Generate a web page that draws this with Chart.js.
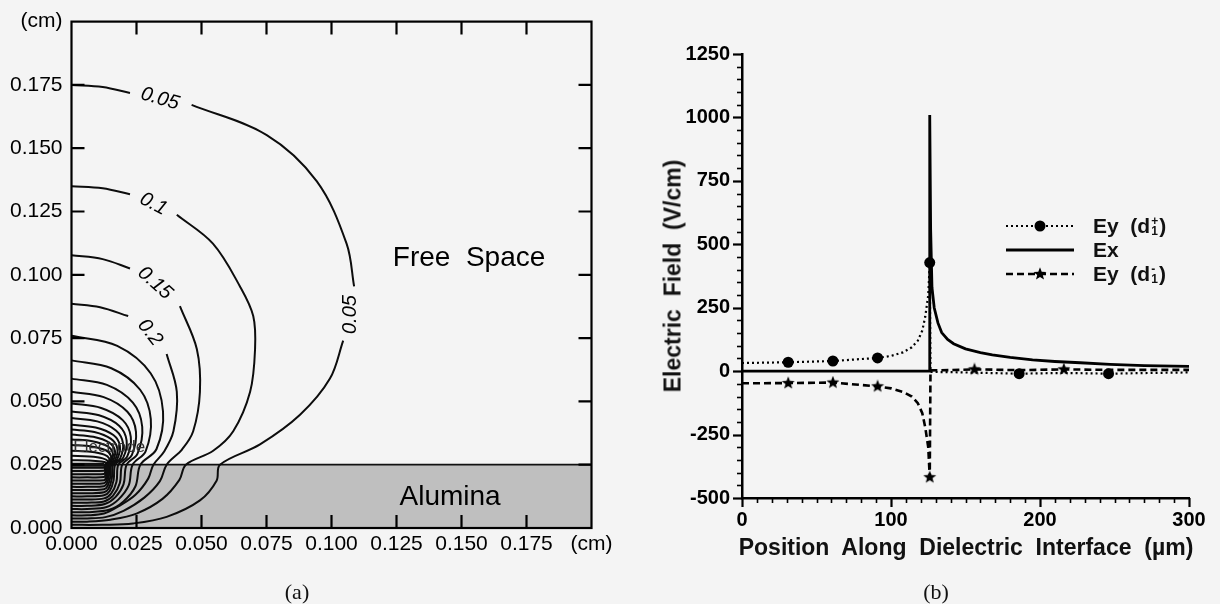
<!DOCTYPE html>
<html>
<head>
<meta charset="utf-8">
<script src="https://cdn.jsdelivr.net/npm/chart.js@4.4.1/dist/chart.umd.min.js"></script>
<style>
  html, body { margin: 0; padding: 0; background: #f4f4f4; }
  #wrap { position: relative; width: 1220px; height: 604px; overflow: hidden;
          font-family: 'Liberation Sans', Arial, Helvetica, sans-serif; color: #111; }
  #chartA { position: absolute; left: 0; top: 0; }
  #chartB { position: absolute; left: 640px; top: 0; }
  .cap { position: absolute; font-family: 'Liberation Serif', 'DejaVu Serif', serif; font-size: 22px;
         transform: translate(-50%, -50%); }
  .atitle { position: absolute; font-weight: bold; font-size: 23px; white-space: pre;
            transform: translate(-50%, -50%); }
  #ytitleB { transform: translate(-50%, -50%) rotate(-90deg); }
  #legendB { position: absolute; left: 1006px; top: 214px; font-weight: bold; font-size: 21px; }
  #legendB .row { display: flex; align-items: center; height: 24px; white-space: pre; }
  #legendB canvas { margin-right: 19px; }
  .ss { display: inline-flex; flex-direction: column; font-size: 12px; line-height: 10px;
        vertical-align: middle; margin: 0 1px; }
</style>
</head>
<body>
<div id="wrap">
  <canvas id="chartA" width="620" height="604"></canvas>
  <canvas id="chartB" width="580" height="604"></canvas>
  <div class="atitle" id="ytitleB" style="left:673px; top:276px;">Electric  Field  (V/cm)</div>
  <div class="atitle" id="xtitleB" style="left:966px; top:547px;">Position  Along  Dielectric  Interface  (µm)</div>
  <div id="legendB">
    <div class="row"><canvas id="keyPlus" width="68" height="16"></canvas>Ey  (d<span class="ss"><span>+</span><span>1</span></span>)</div>
    <div class="row"><canvas id="keyEx" width="68" height="16"></canvas>Ex</div>
    <div class="row"><canvas id="keyMinus" width="68" height="16"></canvas>Ey  (d<span class="ss"><span>-</span><span>1</span></span>)</div>
  </div>
  <div class="cap" style="left:297px; top:592px;">(a)</div>
  <div class="cap" style="left:936px; top:592px;">(b)</div>
</div>
<script>
Chart.defaults.font.family = "'Liberation Sans', Arial, Helvetica, sans-serif";
Chart.defaults.color = '#111';

// ---------- panel (a): equipotential contours (cm) ----------
const cmTickLabels = ['0.000', '0.025', '0.050', '0.075', '0.100', '0.125', '0.150', '0.175', '(cm)'];

// labelled contours, split where the level label sits
const contour005a = [[0, 0.175], [0.012, 0.1742], [0.0225, 0.1718]];
const contour005b = [[0.0462, 0.1671], [0.0751, 0.1552], [0.0943, 0.137], [0.1058, 0.1123], [0.1087, 0.0954]];
const contour005c = [[0.1045, 0.074], [0.0994, 0.059], [0.0879, 0.0447], [0.0725, 0.033], [0.0571, 0.025],
                     [0.0558, 0.0187], [0.0494, 0.0109], [0.0366, 0.0044], [0.0237, 0.0018], [0.012, 0.00128], [0, 0.00125]];
const contour010a = [[0, 0.135], [0.012, 0.1342], [0.0225, 0.1318]];
const contour010b = [[0.0405, 0.1237], [0.0544, 0.1123], [0.0648, 0.0954], [0.0699, 0.0837], [0.0706, 0.0707],
                     [0.0687, 0.0538], [0.0622, 0.0382], [0.0545, 0.0305], [0.044, 0.025],
                     [0.0415, 0.019], [0.035, 0.0115], [0.025, 0.0057], [0.015, 0.0033], [0.006, 0.0025], [0, 0.0025]];
const contour015a = [[0, 0.1077], [0.012, 0.1062], [0.0225, 0.1025]];
const contour015b = [[0.0417, 0.0876], [0.0482, 0.0707], [0.0494, 0.0538], [0.0468, 0.0382], [0.0425, 0.031], [0.0366, 0.025],
                     [0.034, 0.0185], [0.028, 0.012], [0.02, 0.0068], [0.013, 0.0043], [0.006, 0.00375], [0, 0.00375]];
const contour020a = [[0, 0.0886], [0.011, 0.0872], [0.0218, 0.0837]];
const contour020b = [[0.0366, 0.0687], [0.0405, 0.0538], [0.0392, 0.0382], [0.0355, 0.03], [0.0315, 0.025],
                     [0.0295, 0.0195], [0.0245, 0.013], [0.018, 0.0085], [0.0125, 0.0057], [0.006, 0.005], [0, 0.005]];
// unlabelled contours 0.25 ... 0.95
const contour025 = [[0, 0.0759], [0.0176, 0.0719], [0.0305, 0.061], [0.0352, 0.046], [0.0327, 0.0312], [0.0265, 0.025],
                    [0.0246, 0.0165], [0.02, 0.0105], [0.0145, 0.0072], [0.006, 0.00625], [0, 0.00625]];
const contour030 = [[0, 0.0662], [0.0153, 0.0631], [0.0264, 0.0546], [0.0305, 0.043], [0.0285, 0.0303], [0.0235, 0.025],
                    [0.022, 0.0168], [0.018, 0.0112], [0.0135, 0.0083], [0.006, 0.0075], [0, 0.0075]];
const contour035 = [[0, 0.059], [0.0136, 0.0565], [0.0236, 0.0495], [0.0272, 0.04], [0.0254, 0.0294], [0.0212, 0.025],
                    [0.02, 0.0172], [0.0169, 0.0122], [0.0128, 0.0095], [0.006, 0.00875], [0, 0.00875]];
const contour040 = [[0, 0.0538], [0.0124, 0.0517], [0.0215, 0.0459], [0.0248, 0.038], [0.0232, 0.0288], [0.0195, 0.025],
                    [0.0186, 0.0178], [0.016, 0.0128], [0.0125, 0.0105], [0.006, 0.01], [0, 0.01]];
const contour045 = [[0, 0.0492], [0.0114, 0.0474], [0.0197, 0.0426], [0.0228, 0.036], [0.0214, 0.0282], [0.018, 0.025],
                    [0.0173, 0.0183], [0.0153, 0.0137], [0.0125, 0.0117], [0.006, 0.01125], [0, 0.01125]];
const contour050 = [[0, 0.046], [0.0106, 0.0445], [0.0184, 0.0403], [0.0212, 0.0345], [0.0199, 0.0278], [0.0168, 0.025],
                    [0.0162, 0.0189], [0.0147, 0.0146], [0.0125, 0.0129], [0.006, 0.0125], [0, 0.0125]];
const contour055 = [[0, 0.0434], [0.0099, 0.0421], [0.0171, 0.0385], [0.0198, 0.0335], [0.0187, 0.0275], [0.016, 0.025],
                    [0.0155, 0.0195], [0.0143, 0.0156], [0.0125, 0.0141], [0.006, 0.01375], [0, 0.01375]];
const contour060 = [[0, 0.0408], [0.0093, 0.0397], [0.0161, 0.0367], [0.0186, 0.0325], [0.0176, 0.0272], [0.0153, 0.025],
                    [0.0149, 0.0201], [0.0139, 0.0166], [0.0125, 0.0153], [0.006, 0.015], [0, 0.015]];
const contour065 = [[0, 0.0389], [0.0088, 0.0379], [0.0152, 0.0352], [0.0176, 0.0315], [0.0168, 0.0269], [0.0147, 0.025],
                    [0.0144, 0.0207], [0.0136, 0.0176], [0.0125, 0.0165], [0.006, 0.01625], [0, 0.01625]];
const contour070 = [[0, 0.0369], [0.0084, 0.036], [0.0145, 0.0337], [0.0167, 0.0305], [0.016, 0.0266], [0.0142, 0.025],
                    [0.014, 0.0214], [0.0134, 0.0187], [0.0125, 0.0177], [0.006, 0.0175], [0, 0.0175]];
const contour075 = [[0, 0.035], [0.008, 0.0343], [0.0138, 0.0323], [0.0159, 0.0295], [0.0153, 0.0263], [0.0138, 0.025],
                    [0.0136, 0.022], [0.0132, 0.0197], [0.0125, 0.0189], [0.006, 0.01875], [0, 0.01875]];
const contour080 = [[0, 0.0328], [0.0076, 0.0322], [0.0132, 0.0307], [0.0152, 0.0285], [0.0147, 0.026], [0.0135, 0.025],
                    [0.0134, 0.0226], [0.013, 0.0208], [0.0125, 0.0201], [0.006, 0.02], [0, 0.02]];
const contour085 = [[0, 0.0305], [0.0073, 0.0301], [0.0126, 0.029], [0.0145, 0.0275], [0.0141, 0.0257], [0.0132, 0.025],
                    [0.0131, 0.0232], [0.0129, 0.0219], [0.0125, 0.0213], [0.006, 0.02125], [0, 0.02125]];
const contour090 = [[0, 0.0285], [0.007, 0.0282], [0.012, 0.0275], [0.0139, 0.0265], [0.0136, 0.0254], [0.013, 0.025],
                    [0.0129, 0.0238], [0.0128, 0.0229], [0.0125, 0.0226], [0.006, 0.0225], [0, 0.0225]];
const contour095 = [[0, 0.0268], [0.0067, 0.0267], [0.0115, 0.0263], [0.0133, 0.0258], [0.0132, 0.0252], [0.0128, 0.025],
                    [0.0127, 0.0244], [0.0127, 0.024], [0.0125, 0.0238], [0.006, 0.02375], [0, 0.02375]];

const contourLabelText = ['0.05', '0.1', '0.15', '0.2', '0.05'];
const contourLabelX = [0.034, 0.0315, 0.0321, 0.0302, 0.1071];
const contourLabelY = [0.1695, 0.1279, 0.0967, 0.0772, 0.0843];
const contourLabelAngle = [16, 28, 42, 52, -90];

const aluminaX = [0, 0.2];
const aluminaTop = [0.025, 0.025];
const electrodeX = [0, 0.0125];
const electrodeY = [0.025, 0.025];

const toPts = arr => arr.map(p => ({ x: p[0], y: p[1] }));

const contourPaths = [contour005a, contour005b, contour005c, contour010a, contour010b, contour015a, contour015b,
  contour020a, contour020b, contour025, contour030, contour035, contour040, contour045, contour050, contour055,
  contour060, contour065, contour070, contour075, contour080, contour085, contour090, contour095];

// frame, inward ticks and the text inside panel (a)
const panelAExtras = {
  id: 'panelAExtras',
  afterDatasetsDraw(chart) {
    const { ctx, chartArea: a, scales: { x, y } } = chart;
    ctx.save();
    ctx.strokeStyle = '#000';
    ctx.lineWidth = 2.2;
    ctx.strokeRect(a.left, a.top, a.right - a.left, a.bottom - a.top);
    const tl = 13;
    x.ticks.forEach(t => {
      if (t.value <= x.min || t.value >= x.max) return;
      const px = x.getPixelForValue(t.value);
      ctx.beginPath();
      ctx.moveTo(px, a.bottom); ctx.lineTo(px, a.bottom - tl);
      ctx.moveTo(px, a.top); ctx.lineTo(px, a.top + tl);
      ctx.stroke();
    });
    y.ticks.forEach(t => {
      if (t.value <= y.min || t.value >= y.max) return;
      const py = y.getPixelForValue(t.value);
      ctx.beginPath();
      ctx.moveTo(a.left, py); ctx.lineTo(a.left + tl, py);
      ctx.moveTo(a.right, py); ctx.lineTo(a.right - tl, py);
      ctx.stroke();
    });

    ctx.fillStyle = '#000';
    ctx.textAlign = 'center';
    ctx.textBaseline = 'middle';
    ctx.font = "italic 20px 'Liberation Sans', Arial, sans-serif";
    contourLabelText.forEach((txt, i) => {
      ctx.save();
      ctx.translate(x.getPixelForValue(contourLabelX[i]), y.getPixelForValue(contourLabelY[i]));
      ctx.rotate(contourLabelAngle[i] * Math.PI / 180);
      ctx.fillText(txt, 0, 0);
      ctx.restore();
    });

    ctx.font = "28px 'Liberation Sans', Arial, sans-serif";
    ctx.fillText('Free  Space', x.getPixelForValue(0.1529), y.getPixelForValue(0.1064));
    ctx.fillText('Alumina', x.getPixelForValue(0.1456), y.getPixelForValue(0.0122));
    ctx.font = "17px 'Liberation Sans', Arial, sans-serif";
    ctx.fillStyle = '#333';
    ctx.fillText('Electrode', x.getPixelForValue(0.0145), y.getPixelForValue(0.0317));
    ctx.restore();
  }
};

const datasetsA = [
  {
    data: aluminaX.map((v, i) => ({ x: v, y: aluminaTop[i] })),
    showLine: true, fill: 'origin', backgroundColor: '#bfbfbf',
    borderColor: '#111', borderWidth: 1.8, pointRadius: 0, order: 10
  },
  {
    data: electrodeX.map((v, i) => ({ x: v, y: electrodeY[i] })),
    showLine: true, borderColor: '#111', borderWidth: 4, pointRadius: 0, order: 0
  }
].concat(contourPaths.map(p => ({
  data: toPts(p), showLine: true, fill: false, borderColor: '#0d0d0d', borderWidth: 2,
  pointRadius: 0, tension: 0.35, order: 1
})));

new Chart(document.getElementById('chartA'), {
  type: 'scatter',
  data: { datasets: datasetsA },
  options: {
    responsive: false,
    animation: false,
    layout: { padding: { top: 15, right: 28.5, left: 0, bottom: 0 } },
    plugins: { legend: { display: false }, tooltip: { enabled: false } },
    scales: {
      x: {
        type: 'linear', min: 0, max: 0.2,
        afterFit: s => { s.height = 76; },
        grid: { display: false, drawTicks: false },
        border: { display: false },
        ticks: { stepSize: 0.025, padding: 4, maxRotation: 0, autoSkip: false,
                 font: { size: 21 }, color: '#000', callback: (v, i) => cmTickLabels[i] }
      },
      y: {
        type: 'linear', min: 0, max: 0.2,
        afterFit: s => { s.width = 71.5; },
        grid: { display: false, drawTicks: false },
        border: { display: false },
        ticks: { stepSize: 0.025, padding: 9, autoSkip: false,
                 font: { size: 21 }, color: '#000', callback: (v, i) => cmTickLabels[i] }
      }
    }
  },
  plugins: [panelAExtras]
});

// ---------- panel (b): field along the dielectric interface ----------
const positionTickLabels = ['0', '100', '200', '300'];
const fieldTickLabels = ['-500', '-250', '0', '250', '500', '750', '1000', '1250'];

const eyX = [0, 31, 61, 91, 100, 108, 114, 118, 121, 123, 125, 126, 126.5, 140, 156, 186, 216, 246, 276, 300];
const eyPlus = [32, 35, 40, 52, 60, 74, 94, 120, 160, 215, 300, 428, -3, -4, -6, -10, -7, -10, -7, -5];
const eyMinus = [-48, -47, -45, -60, -68, -82, -100, -126, -166, -222, -300, -418, 3, 4, 7, 4, 7, 5, 5, 5];
const eyPlusMarks = [31, 61, 91, 126, 186, 246];
const eyMinusMarks = [31, 61, 91, 126, 156, 216];

const exX = [0, 126, 126, 126.6, 127.5, 129, 131.5, 134, 138, 142, 150, 160, 168, 180, 195, 210, 227, 247, 270, 300];
const exY = [0, 0, 1010, 560, 330, 250, 190, 152, 125, 108, 88, 73, 64, 54, 44, 38, 33, 27, 22, 19];

// filled star marker
const starImg = document.createElement('canvas');
starImg.width = 14; starImg.height = 14;
(function () {
  const g = starImg.getContext('2d');
  g.fillStyle = '#000';
  g.beginPath();
  for (let k = 0; k < 10; k++) {
    const r = k % 2 ? 2.9 : 6.8;
    const ang = -Math.PI / 2 + k * Math.PI / 5;
    g.lineTo(7 + r * Math.cos(ang), 7 + r * Math.sin(ang));
  }
  g.closePath();
  g.fill();
})();

// outward major / minor ticks on the two axes of panel (b)
const outerTicks = {
  id: 'outerTicks',
  afterDraw(chart) {
    const { ctx, chartArea: a, scales: { x, y } } = chart;
    ctx.save();
    ctx.strokeStyle = '#000';
    for (let v = y.min; v <= y.max; v += 50) {
      const major = v % 250 === 0;
      const py = Math.round(y.getPixelForValue(v)) + 0.5;
      ctx.lineWidth = major ? 2.2 : 1.6;
      ctx.beginPath(); ctx.moveTo(a.left, py); ctx.lineTo(a.left - (major ? 9 : 5), py); ctx.stroke();
    }
    for (let v = x.min; v <= x.max; v += 10) {
      const major = v % 100 === 0;
      const px = Math.round(x.getPixelForValue(v)) + 0.5;
      ctx.lineWidth = major ? 2.2 : 1.6;
      ctx.beginPath(); ctx.moveTo(px, a.bottom); ctx.lineTo(px, a.bottom + (major ? 9 : 5)); ctx.stroke();
    }
    ctx.restore();
  }
};

new Chart(document.getElementById('chartB'), {
  type: 'scatter',
  data: {
    datasets: [
      {
        label: 'Ex',
        data: exX.map((v, i) => ({ x: v, y: exY[i] })),
        showLine: true, borderColor: '#000', borderWidth: 2.8, pointRadius: 0, tension: 0
      },
      {
        label: 'Ey (d1-)',
        data: eyX.map((v, i) => ({ x: v, y: eyMinus[i] })),
        showLine: true, borderColor: '#000', borderWidth: 2.6, borderDash: [7, 4], tension: 0,
        pointStyle: starImg,
        pointRadius: c => (c.raw && eyMinusMarks.includes(c.raw.x)) ? 5 : 0
      },
      {
        label: 'Ey (d1+)',
        data: eyX.map((v, i) => ({ x: v, y: eyPlus[i] })),
        showLine: true, borderColor: '#000', borderWidth: 2.2, borderDash: [2, 3], tension: 0,
        pointStyle: 'circle', backgroundColor: '#000', pointBorderWidth: 0,
        pointRadius: c => (c.raw && eyPlusMarks.includes(c.raw.x)) ? 5.5 : 0
      }
    ]
  },
  options: {
    responsive: false,
    animation: false,
    layout: { padding: { top: 54, right: 31, left: 0, bottom: 0 } },
    plugins: { legend: { display: false }, tooltip: { enabled: false } },
    scales: {
      x: {
        type: 'linear', min: 0, max: 300,
        afterFit: s => { s.height = 106; },
        grid: { display: false, drawTicks: true, tickLength: 9 },
        border: { display: true, color: '#000', width: 2.5 },
        ticks: { stepSize: 100, padding: 1, maxRotation: 0, autoSkip: false,
                 font: { size: 20, weight: 'bold' }, color: '#000', callback: (v, i) => positionTickLabels[i] }
      },
      y: {
        type: 'linear', min: -500, max: 1250,
        afterFit: s => { s.width = 102; },
        grid: { display: false, drawTicks: true, tickLength: 9 },
        border: { display: true, color: '#000', width: 2.5 },
        ticks: { stepSize: 250, padding: 3, autoSkip: false,
                 font: { size: 20, weight: 'bold' }, color: '#000', callback: (v, i) => fieldTickLabels[i] }
      }
    }
  },
  plugins: [outerTicks]
});

// legend keys
function drawKey(id, dash, width, marker) {
  const c = document.getElementById(id);
  const g = c.getContext('2d');
  g.strokeStyle = '#000';
  g.lineWidth = width;
  g.setLineDash(dash);
  g.beginPath(); g.moveTo(0, c.height / 2); g.lineTo(c.width, c.height / 2); g.stroke();
  if (marker === 'circle') {
    g.fillStyle = '#000';
    g.beginPath(); g.arc(c.width / 2, c.height / 2, 5.5, 0, Math.PI * 2); g.fill();
  }
  if (marker === 'star') {
    g.drawImage(starImg, c.width / 2 - starImg.width / 2, c.height / 2 - starImg.height / 2);
  }
}
drawKey('keyPlus', [2, 3], 2.2, 'circle');
drawKey('keyEx', [], 2.8, null);
drawKey('keyMinus', [7, 4], 2.6, 'star');
</script>
</body>
</html>
